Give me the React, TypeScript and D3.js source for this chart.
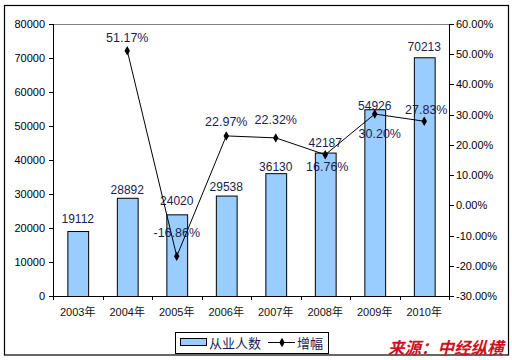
import React from "react";
import * as d3 from "d3";

const years = ["2003年", "2004年", "2005年", "2006年", "2007年", "2008年", "2009年", "2010年"];
const employees = [19112, 28892, 24020, 29538, 36130, 42187, 54926, 70213];
const growthYears = ["2004年", "2005年", "2006年", "2007年", "2008年", "2009年", "2010年"];
const growth = [51.17, -16.86, 22.97, 22.32, 16.76, 30.2, 27.83];
const leftTicks = [0, 10000, 20000, 30000, 40000, 50000, 60000, 70000, 80000];
const rightTicks = [-30, -20, -10, 0, 10, 20, 30, 40, 50, 60];
// label placement for growth labels (style only): offsets in px
const growthLabelDy = [-13, -24, -14, -18, 12, 19, -12];
const growthLabelDx = [0, 0, 0, 0, 2, 5, 2];
const barLabelDy = [-12, -8, -13, -9, -6, -10, -3, -10];

const W = 512, H = 360;
const M = { left: 53, right: 449, top: 24, bottom: 296 };
const FONT = "Arial, 'Liberation Sans', 'Noto Sans CJK SC', sans-serif";
const LABEL = "#1c1c50";

export default function App() {
  const x = d3.scaleBand().domain(years).range([M.left, M.right]).paddingInner(0.58).paddingOuter(0.29);
  const xc = (c: string) => (x(c) as number) + x.bandwidth() / 2;
  const slot = (M.right - M.left) / years.length;
  const yL = d3.scaleLinear().domain([0, 80000]).range([M.bottom, M.top]);
  const yR = d3.scaleLinear().domain([-30, 60]).range([M.bottom, M.top]);
  const line = d3.line<number>().x((_, i) => xc(growthYears[i])).y((d) => yR(d));
  const diamond = d3.symbol().type(d3.symbolDiamond).size(26)();

  return (
    <svg width={W} height={H} style={{ position: "absolute", left: 0, top: 0, background: "#fff" }} fontFamily={FONT}>
      <rect x={0} y={0} width={W} height={H} fill="#fff" />
      <rect x={4.5} y={5.5} width={504} height={349.5} fill="none" stroke="#000" strokeWidth={1.2} />
      {/* plot frame top */}
      <line x1={M.left} x2={M.right} y1={M.top + 0.5} y2={M.top + 0.5} stroke="#808080" />
      {/* bars */}
      {employees.map((v, i) => (
        <rect key={i} x={(x(years[i]) as number) + 0.5} y={yL(v) + 0.5} width={x.bandwidth()} height={M.bottom - yL(v)}
          fill="#99ccff" stroke="#000" strokeWidth={1} />
      ))}
      {/* axes */}
      <line x1={M.left + 0.5} x2={M.left + 0.5} y1={M.top} y2={M.bottom} stroke="#000" />
      <line x1={M.right + 0.5} x2={M.right + 0.5} y1={M.top} y2={M.bottom} stroke="#000" />
      <line x1={M.left} x2={M.right + 1} y1={M.bottom + 0.5} y2={M.bottom + 0.5} stroke="#000" />
      {leftTicks.map((t) => (
        <g key={"l" + t}>
          <line x1={M.left - 4} x2={M.left} y1={Math.round(yL(t)) + 0.5} y2={Math.round(yL(t)) + 0.5} stroke="#000" />
          <text x={M.left - 8} y={yL(t) + 4} fontSize={11} textAnchor="end" fill="#000">{t}</text>
        </g>
      ))}
      {rightTicks.map((t) => (
        <g key={"r" + t}>
          <line x1={M.right} x2={M.right + 5} y1={Math.round(yR(t)) + 0.5} y2={Math.round(yR(t)) + 0.5} stroke="#000" />
          <text x={M.right + 7} y={yR(t) + 4} fontSize={11} textAnchor="start" fill="#000">{t.toFixed(2) + "%"}</text>
        </g>
      ))}
      {d3.range(years.length + 1).map((k) => (
        <line key={"xt" + k} x1={Math.round(M.left + slot * k) + 0.5} x2={Math.round(M.left + slot * k) + 0.5}
          y1={M.bottom} y2={M.bottom + 4} stroke="#000" />
      ))}
      {years.map((c) => (
        <text key={c} x={xc(c)} y={316} fontSize={11} textAnchor="middle" fill="#111">{c}</text>
      ))}
      {/* bar labels */}
      {employees.map((v, i) => (
        <text key={"bl" + i} x={xc(years[i])} y={yL(v) + barLabelDy[i] + 4} fontSize={12} textAnchor="middle" fill={LABEL}>{v}</text>
      ))}
      {/* line */}
      <path d={line(growth) || ""} fill="none" stroke="#000" strokeWidth={1} />
      {growth.map((g, i) => (
        <path key={"m" + i} d={diamond || ""} transform={`translate(${xc(growthYears[i])},${yR(g)})`} fill="#000" />
      ))}
      {growth.map((g, i) => (
        <text key={"gl" + i} x={xc(growthYears[i]) + growthLabelDx[i]} y={yR(g) + growthLabelDy[i] + 4.5} fontSize={12.5}
          textAnchor="middle" fill={LABEL}>{g.toFixed(2) + "%"}</text>
      ))}
      {/* legend */}
      <rect x={175.5} y={332.5} width={153} height={21} fill="#fff" stroke="#000" />
      <rect x={180.5} y={338.5} width={26} height={7} fill="#99ccff" stroke="#000" />
      <text x={209} y={348} fontSize={13} fill={LABEL}>从业人数</text>
      <line x1={268} x2={295} y1={342.5} y2={342.5} stroke="#000" />
      <path d={diamond || ""} transform="translate(282,342.5)" fill="#000" />
      <text x={297} y={348} fontSize={13} fill={LABEL}>增幅</text>
      {/* source */}
      <text x={388} y={354} fontSize={16.5} fontWeight="bold" fontStyle="italic" fill="#cc1122">来源：中经纵横</text>
    </svg>
  );
}
